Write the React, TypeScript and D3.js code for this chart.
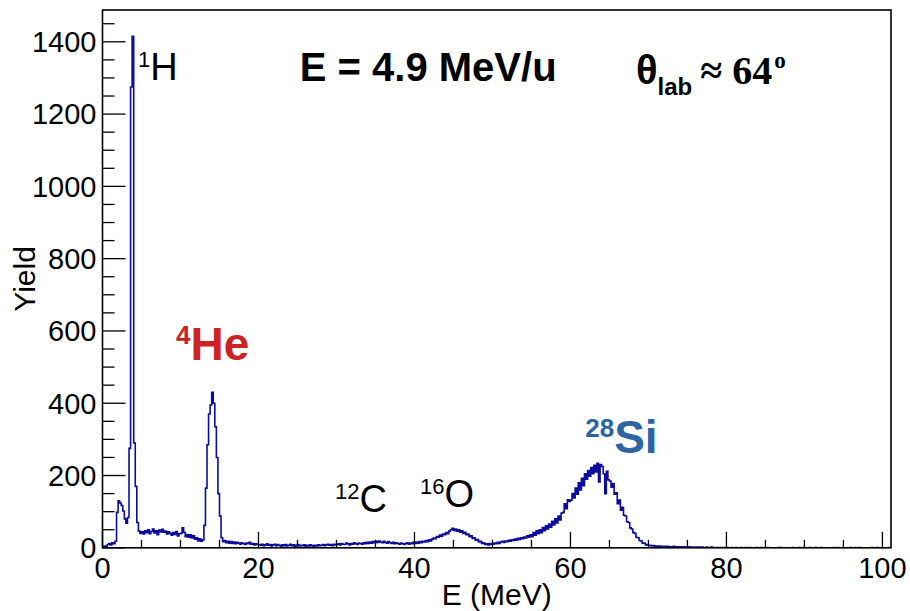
import React, { useEffect, useRef } from 'react';
import * as d3 from 'd3';

// energy spectrum, 0.2 MeV bins, counts
const BIN_WIDTH = 0.2;

const yield0to10 = [
  3, 5, 4, 9, 12, 8, 14, 11, 18, 98,
  130, 124, 117, 102, 80, 68, 84, 275, 1275, 1415,
  290, 170, 70, 46, 40, 44, 38, 47, 42, 50,
  39, 45, 52, 41, 47, 36, 49, 44, 51, 43,
  46, 38, 44, 40, 35, 42, 37, 45, 33, 39,
];
const yield10to20 = [
  40, 55, 43, 31, 37, 29, 36, 27, 33, 24,
  28, 19, 25, 18, 22, 62, 165, 285, 370, 395,
  430, 400, 335, 250, 150, 88, 28, 17, 20, 14,
  18, 13, 17, 12, 16, 11, 15, 13, 10, 14,
  12, 9, 13, 11, 15, 10, 12, 8, 11, 9,
];
const yield20to30 = [
  9, 7, 10, 6, 8, 11, 7, 9, 5, 8,
  10, 6, 9, 7, 4, 8, 6, 9, 5, 7,
  10, 6, 8, 4, 7, 9, 5, 7, 6, 8,
  4, 7, 5, 8, 6, 4, 7, 5, 8, 6,
  7, 9, 6, 8, 10, 7, 9, 6, 10, 8,
];
const yield30to40 = [
  9, 11, 8, 12, 10, 9, 13, 11, 8, 12,
  10, 14, 11, 9, 13, 12, 10, 14, 11, 15,
  12, 16, 13, 17, 14, 18, 15, 19, 16, 14,
  18, 15, 13, 17, 14, 12, 15, 11, 14, 12,
  10, 13, 11, 9, 12, 14, 10, 13, 11, 15,
];
const yield40to50 = [
  12, 16, 13, 17, 14, 18, 16, 20, 17, 22,
  19, 24, 27, 25, 31, 29, 35, 32, 38, 36,
  42, 39, 46, 50, 54, 48, 52, 46, 50, 43,
  47, 40, 43, 36, 38, 31, 33, 26, 28, 21,
  23, 16, 18, 12, 14, 9, 11, 8, 12, 9,
];
const yield50to60 = [
  10, 13, 11, 15, 12, 16, 18, 15, 19, 17,
  21, 18, 22, 20, 24, 21, 26, 23, 28, 25,
  30, 27, 33, 29, 36, 31, 42, 35, 47, 39,
  50, 42, 56, 47, 61, 52, 66, 57, 73, 63,
  80, 69, 88, 77, 96, 98, 122, 108, 133, 128,
];
const yield60to70 = [
  132, 150, 138, 165, 148, 180, 160, 192, 172, 205,
  190, 214, 198, 222, 205, 228, 210, 234, 182, 230,
  225, 205, 150, 212, 188, 185, 168, 178, 148, 152,
  122, 132, 104, 112, 90, 88, 72, 70, 55, 52,
  42, 40, 29, 28, 20, 19, 13, 13, 8, 9,
];
const yield70to80 = [
  7, 6, 5, 6, 4, 5, 4, 5, 3, 4,
  4, 3, 4, 3, 2, 3, 4, 2, 3, 3,
  2, 3, 2, 3, 1, 3, 2, 1, 2, 2,
  1, 2, 2, 1, 2, 1, 1, 2, 1, 0,
  2, 1, 1, 0, 1, 1, 0, 1, 1, 0,
];
const yield80to90 = [
  1, 0, 0, 1, 0, 0, 1, 0, 0, 1,
  0, 0, 1, 0, 0, 1, 0, 0, 0, 1,
  0, 0, 1, 0, 0, 0, 1, 0, 0, 0,
  0, 0, 0, 1, 0, 1, 0, 0, 0, 0,
  0, 0, 1, 0, 0, 0, 1, 0, 0, 1,
];
const yield90to101 = [
  0, 0, 0, 1, 0, 0, 0, 1, 0, 0,
  1, 0, 0, 0, 0, 0, 0, 0, 1, 0,
  0, 1, 0, 0, 0, 0, 0, 0, 0, 1,
  0, 0, 1, 0, 0, 1, 0, 0, 0, 0,
  0, 0, 0, 1, 0, 0, 1, 0, 0, 0,
  0, 0, 0, 0, 1,
];

const spectrum = [
  ...yield0to10, ...yield10to20, ...yield20to30, ...yield30to40, ...yield40to50,
  ...yield50to60, ...yield60to70, ...yield70to80, ...yield80to90, ...yield90to101,
];

const xDomain = [0, 101.1];
const yDomain = [0, 1488];
const xMajorTicks = [0, 20, 40, 60, 80, 100];
const yMajorTicks = [0, 200, 400, 600, 800, 1000, 1200, 1400];

const SANS = '"Liberation Sans", Arial, Helvetica, sans-serif';
const SERIF = '"Liberation Serif", "Times New Roman", serif';

export default function App() {
  const svgRef = useRef<SVGSVGElement>(null);

  useEffect(() => {
    if (!svgRef.current) return;
    const svg = d3.select(svgRef.current);
    svg.selectAll('*').remove();

    const frame = { left: 102.5, right: 891, top: 10, bottom: 547.8 };
    const x = d3.scaleLinear().domain(xDomain).range([frame.left, frame.right]);
    const y = d3.scaleLinear().domain(yDomain).range([frame.bottom, frame.top]);

    svg.append('rect').attr('width', 910).attr('height', 611).attr('fill', 'white');

    svg.append('clipPath').attr('id', 'plot-clip')
      .append('rect')
      .attr('x', frame.left).attr('y', frame.top)
      .attr('width', frame.right - frame.left).attr('height', frame.bottom - frame.top);

    // histogram outline as steps
    const pts: [number, number][] = spectrum.map((v, i) => [i * BIN_WIDTH, v]);
    pts.push([spectrum.length * BIN_WIDTH, spectrum[spectrum.length - 1]]);
    const line = d3.line<[number, number]>()
      .x((d) => x(d[0]))
      .y((d) => y(d[1]))
      .curve(d3.curveStepAfter);
    svg.append('path')
      .attr('d', line(pts))
      .attr('fill', 'none')
      .attr('stroke', '#0c0c9c')
      .attr('stroke-width', 1.6)
      .attr('clip-path', 'url(#plot-clip)');

    // ticks, ROOT style (inside the frame)
    const ax = svg.append('g').attr('stroke', '#000').attr('stroke-width', 1.3);
    d3.range(0, 1451, 50).forEach((v) => {
      const major = v % 200 === 0;
      ax.append('line')
        .attr('x1', frame.left).attr('x2', frame.left + (major ? 23 : 12))
        .attr('y1', y(v)).attr('y2', y(v));
    });
    d3.range(0, 101, 5).forEach((v) => {
      const major = v % 20 === 0;
      ax.append('line')
        .attr('x1', x(v)).attr('x2', x(v))
        .attr('y1', frame.bottom).attr('y2', frame.bottom - (major ? 16 : 8));
    });

    svg.append('rect')
      .attr('x', frame.left).attr('y', frame.top)
      .attr('width', frame.right - frame.left).attr('height', frame.bottom - frame.top)
      .attr('fill', 'none').attr('stroke', '#000').attr('stroke-width', 1.6);

    // tick labels
    svg.selectAll('text.ylab')
      .data(yMajorTicks)
      .join('text')
      .attr('class', 'ylab')
      .attr('x', 96.5)
      .attr('y', (d) => y(d) + 10.4)
      .attr('text-anchor', 'end')
      .attr('font-family', SANS)
      .attr('font-size', 29)
      .text((d) => d);

    svg.selectAll('text.xlab')
      .data(xMajorTicks)
      .join('text')
      .attr('class', 'xlab')
      .attr('x', (d) => x(d))
      .attr('y', 578)
      .attr('text-anchor', 'middle')
      .attr('font-family', SANS)
      .attr('font-size', 29)
      .text((d) => d);

    // axis titles
    svg.append('text')
      .attr('x', (frame.left + frame.right) / 2)
      .attr('y', 605)
      .attr('text-anchor', 'middle')
      .attr('font-family', SANS)
      .attr('font-size', 30)
      .text('E (MeV)');

    svg.append('text')
      .attr('transform', 'translate(35,' + (frame.top + frame.bottom) / 2 + ') rotate(-90)')
      .attr('text-anchor', 'middle')
      .attr('font-family', SANS)
      .attr('font-size', 30)
      .text('Yield');

    // headline texts
    svg.append('text')
      .attr('x', x(25.3)).attr('y', y(1292))
      .attr('font-family', SANS).attr('font-weight', 'bold').attr('font-size', 40)
      .text('E = 4.9 MeV/u');

    const th = svg.append('text')
      .attr('x', x(68.4)).attr('y', y(1282))
      .attr('font-weight', 'bold');
    th.append('tspan').attr('font-family', SANS).attr('font-size', 40).text('θ');
    th.append('tspan').attr('font-family', SANS).attr('font-size', 24).attr('dy', 11).text('lab');
    th.append('tspan').attr('font-family', SERIF).attr('font-size', 40).attr('dy', -11).attr('dx', 8).text('≈ 64');
    th.append('tspan').attr('font-family', SERIF).attr('font-size', 23).attr('dy', -16).attr('dx', 2).text('o');

    // peak labels
    const peakLabel = (e: number, v: number, sup: string, name: string, opts: { size: number; supSize: number; lift: number; bold?: boolean; color?: string }) => {
      const t = svg.append('text')
        .attr('x', x(e)).attr('y', y(v))
        .attr('font-family', SANS)
        .attr('font-weight', opts.bold ? 'bold' : 'normal')
        .attr('fill', opts.color || '#000');
      t.append('tspan').attr('font-size', opts.supSize).attr('dy', -opts.lift).text(sup);
      t.append('tspan').attr('font-size', opts.size).attr('dy', opts.lift).text(name);
    };
    peakLabel(4.55, 1295, '1', 'H', { size: 38, supSize: 22, lift: 13 });
    peakLabel(9.42, 520, '4', 'He', { size: 46, supSize: 26, lift: 16, bold: true, color: '#cc2222' });
    peakLabel(29.8, 99, '12', 'C', { size: 38, supSize: 22, lift: 13 });
    peakLabel(40.7, 113, '16', 'O', { size: 38, supSize: 22, lift: 13 });
    peakLabel(61.9, 262, '28', 'Si', { size: 46, supSize: 26, lift: 16, bold: true, color: '#2d64a2' });
  }, []);

  return (
    <svg
      ref={svgRef}
      width={910}
      height={611}
      style={{ position: 'absolute', left: 0, top: 0, display: 'block' }}
    />
  );
}
